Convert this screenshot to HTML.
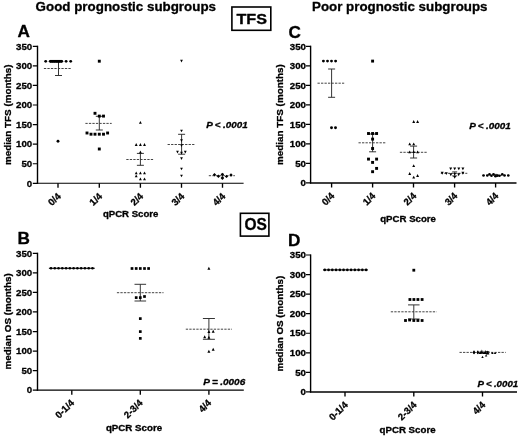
<!DOCTYPE html>
<html lang="en"><head><meta charset="utf-8"><title>qPCR Score prognostic subgroups</title>
<style>html,body{margin:0;padding:0;background:#fff}body{width:520px;height:436px;overflow:hidden}svg{display:block;filter:blur(0.3px)}</style>
</head><body>
<svg width="520" height="436" viewBox="0 0 520 436" font-family='"Liberation Sans", Arial, Helvetica, sans-serif' fill="#000">
<rect width="520" height="436" fill="#fff"/>
<style>text{stroke:#000;stroke-width:0.3px;stroke-linejoin:round}</style>
<text x="35.6" y="10.8" font-size="12.4" font-weight="bold" textLength="180.4" lengthAdjust="spacingAndGlyphs">Good prognostic subgroups</text>
<text x="312.0" y="10.9" font-size="12.4" font-weight="bold" textLength="175.5" lengthAdjust="spacingAndGlyphs">Poor prognostic subgroups</text>
<rect x="231.9" y="7.0" width="38.9" height="23.3" fill="none" stroke="#000" stroke-width="1.6"/>
<text x="251.7" y="23.7" font-size="14.4" font-weight="bold" text-anchor="middle" textLength="30.6" lengthAdjust="spacingAndGlyphs">TFS</text>
<rect x="240.4" y="213.3" width="28.5" height="22.8" fill="none" stroke="#000" stroke-width="1.6"/>
<text x="255.7" y="230.0" font-size="16" font-weight="bold" text-anchor="middle" textLength="22.4" lengthAdjust="spacingAndGlyphs">OS</text>
<g font-size="16" font-weight="bold" lengthAdjust="spacingAndGlyphs">
<text x="17.6" y="36.7" textLength="12.4" lengthAdjust="spacingAndGlyphs">A</text>
<text x="17.4" y="243.8" textLength="12.4" lengthAdjust="spacingAndGlyphs">B</text>
<text x="288.5" y="38.4" textLength="12.4" lengthAdjust="spacingAndGlyphs">C</text>
<text x="288.1" y="246.3" textLength="12.4" lengthAdjust="spacingAndGlyphs">D</text>
</g>
<g stroke="#000" fill="none" stroke-linecap="butt">
<path stroke-width="1.4" d="M37.50 45.70V183.85"/>
<path stroke-width="1.1" d="M36.80 183.30H243.60"/>
<path stroke-width="1.2" d="M32.80 46.30H37.50M32.80 65.87H37.50M32.80 85.44H37.50M32.80 105.01H37.50M32.80 124.59H37.50M32.80 144.16H37.50M32.80 163.73H37.50M32.80 183.30H37.50"/>
<path stroke-width="1.35" d="M58.00 183.30V187.80M99.30 183.30V187.80M140.40 183.30V187.80M181.50 183.30V187.80M222.50 183.30V187.80"/>
</g>
<g font-size="9.5" font-weight="bold" text-anchor="end">
<text x="32.20" y="49.50" textLength="16.20" lengthAdjust="spacingAndGlyphs">350</text>
<text x="32.20" y="69.07" textLength="16.20" lengthAdjust="spacingAndGlyphs">300</text>
<text x="32.20" y="88.64" textLength="16.20" lengthAdjust="spacingAndGlyphs">250</text>
<text x="32.20" y="108.21" textLength="16.20" lengthAdjust="spacingAndGlyphs">200</text>
<text x="32.20" y="127.79" textLength="16.20" lengthAdjust="spacingAndGlyphs">150</text>
<text x="32.20" y="147.36" textLength="16.20" lengthAdjust="spacingAndGlyphs">100</text>
<text x="32.20" y="166.93" textLength="10.80" lengthAdjust="spacingAndGlyphs">50</text>
<text x="32.20" y="186.50" textLength="5.40" lengthAdjust="spacingAndGlyphs">0</text>
</g>
<g font-size="9.6" font-weight="bold" text-anchor="end">
<text transform="translate(61.50 196.90) rotate(-45)">0/4</text>
<text transform="translate(102.80 196.90) rotate(-45)">1/4</text>
<text transform="translate(143.90 196.90) rotate(-45)">2/4</text>
<text transform="translate(185.00 196.90) rotate(-45)">3/4</text>
<text transform="translate(226.00 196.90) rotate(-45)">4/4</text>
</g>
<text x="102.90" y="217.00" font-size="8.9" font-weight="bold" textLength="55.50" lengthAdjust="spacingAndGlyphs">qPCR Score</text>
<text transform="translate(10.50 114.80) rotate(-90)" font-size="9.6" font-weight="bold" text-anchor="middle" textLength="100.60" lengthAdjust="spacingAndGlyphs">median TFS (months)</text>
<g stroke="#000" fill="none" stroke-linecap="butt">
<path stroke-width="1.4" d="M310.60 45.70V183.45"/>
<path stroke-width="1.5" d="M309.90 182.90H516.50"/>
<path stroke-width="1.2" d="M305.90 46.30H310.60M305.90 65.81H310.60M305.90 85.33H310.60M305.90 104.84H310.60M305.90 124.36H310.60M305.90 143.87H310.60M305.90 163.39H310.60M305.90 182.90H310.60"/>
<path stroke-width="1.35" d="M331.60 182.90V187.40M372.60 182.90V187.40M413.50 182.90V187.40M454.60 182.90V187.40M495.60 182.90V187.40"/>
</g>
<g font-size="9.5" font-weight="bold" text-anchor="end">
<text x="306.00" y="49.50" textLength="16.20" lengthAdjust="spacingAndGlyphs">350</text>
<text x="306.00" y="69.01" textLength="16.20" lengthAdjust="spacingAndGlyphs">300</text>
<text x="306.00" y="88.53" textLength="16.20" lengthAdjust="spacingAndGlyphs">250</text>
<text x="306.00" y="108.04" textLength="16.20" lengthAdjust="spacingAndGlyphs">200</text>
<text x="306.00" y="127.56" textLength="16.20" lengthAdjust="spacingAndGlyphs">150</text>
<text x="306.00" y="147.07" textLength="16.20" lengthAdjust="spacingAndGlyphs">100</text>
<text x="306.00" y="166.59" textLength="10.80" lengthAdjust="spacingAndGlyphs">50</text>
<text x="306.00" y="186.10" textLength="5.40" lengthAdjust="spacingAndGlyphs">0</text>
</g>
<g font-size="9.6" font-weight="bold" text-anchor="end">
<text transform="translate(335.10 196.50) rotate(-45)">0/4</text>
<text transform="translate(376.10 196.50) rotate(-45)">1/4</text>
<text transform="translate(417.00 196.50) rotate(-45)">2/4</text>
<text transform="translate(458.10 196.50) rotate(-45)">3/4</text>
<text transform="translate(499.10 196.50) rotate(-45)">4/4</text>
</g>
<text x="380.20" y="221.90" font-size="8.9" font-weight="bold" textLength="55.80" lengthAdjust="spacingAndGlyphs">qPCR Score</text>
<text transform="translate(283.30 114.60) rotate(-90)" font-size="9.6" font-weight="bold" text-anchor="middle" textLength="100.60" lengthAdjust="spacingAndGlyphs">median TFS (months)</text>
<g stroke="#000" fill="none" stroke-linecap="butt">
<path stroke-width="1.4" d="M37.50 252.70V390.75"/>
<path stroke-width="1.25" d="M36.80 390.20H243.80"/>
<path stroke-width="1.2" d="M32.80 253.30H37.50M32.80 272.86H37.50M32.80 292.41H37.50M32.80 311.97H37.50M32.80 331.53H37.50M32.80 351.09H37.50M32.80 370.64H37.50M32.80 390.20H37.50"/>
<path stroke-width="1.35" d="M71.80 390.20V394.70M140.30 390.20V394.70M208.90 390.20V394.70"/>
</g>
<g font-size="9.5" font-weight="bold" text-anchor="end">
<text x="32.20" y="256.50" textLength="16.20" lengthAdjust="spacingAndGlyphs">350</text>
<text x="32.20" y="276.06" textLength="16.20" lengthAdjust="spacingAndGlyphs">300</text>
<text x="32.20" y="295.61" textLength="16.20" lengthAdjust="spacingAndGlyphs">250</text>
<text x="32.20" y="315.17" textLength="16.20" lengthAdjust="spacingAndGlyphs">200</text>
<text x="32.20" y="334.73" textLength="16.20" lengthAdjust="spacingAndGlyphs">150</text>
<text x="32.20" y="354.29" textLength="16.20" lengthAdjust="spacingAndGlyphs">100</text>
<text x="32.20" y="373.84" textLength="10.80" lengthAdjust="spacingAndGlyphs">50</text>
<text x="32.20" y="393.40" textLength="5.40" lengthAdjust="spacingAndGlyphs">0</text>
</g>
<g font-size="9.6" font-weight="bold" text-anchor="end">
<text transform="translate(74.80 403.50) rotate(-45)">0-1/4</text>
<text transform="translate(143.30 403.50) rotate(-45)">2-3/4</text>
<text transform="translate(211.90 403.50) rotate(-45)">4/4</text>
</g>
<text x="105.90" y="431.30" font-size="8.9" font-weight="bold" textLength="56.20" lengthAdjust="spacingAndGlyphs">qPCR Score</text>
<text transform="translate(10.50 321.35) rotate(-90)" font-size="9.6" font-weight="bold" text-anchor="middle" textLength="96.40" lengthAdjust="spacingAndGlyphs">median OS (months)</text>
<g stroke="#000" fill="none" stroke-linecap="butt">
<path stroke-width="1.4" d="M310.60 254.40V392.45"/>
<path stroke-width="1.55" d="M309.90 391.90H517.00"/>
<path stroke-width="1.2" d="M305.90 255.00H310.60M305.90 274.56H310.60M305.90 294.11H310.60M305.90 313.67H310.60M305.90 333.23H310.60M305.90 352.79H310.60M305.90 372.34H310.60M305.90 391.90H310.60"/>
<path stroke-width="1.35" d="M345.00 391.90V396.40M413.80 391.90V396.40M482.50 391.90V396.40"/>
</g>
<g font-size="9.5" font-weight="bold" text-anchor="end">
<text x="306.00" y="258.20" textLength="16.20" lengthAdjust="spacingAndGlyphs">350</text>
<text x="306.00" y="277.76" textLength="16.20" lengthAdjust="spacingAndGlyphs">300</text>
<text x="306.00" y="297.31" textLength="16.20" lengthAdjust="spacingAndGlyphs">250</text>
<text x="306.00" y="316.87" textLength="16.20" lengthAdjust="spacingAndGlyphs">200</text>
<text x="306.00" y="336.43" textLength="16.20" lengthAdjust="spacingAndGlyphs">150</text>
<text x="306.00" y="355.99" textLength="16.20" lengthAdjust="spacingAndGlyphs">100</text>
<text x="306.00" y="375.54" textLength="10.80" lengthAdjust="spacingAndGlyphs">50</text>
<text x="306.00" y="395.10" textLength="5.40" lengthAdjust="spacingAndGlyphs">0</text>
</g>
<g font-size="9.6" font-weight="bold" text-anchor="end">
<text transform="translate(348.50 405.50) rotate(-45)">0-1/4</text>
<text transform="translate(417.30 405.50) rotate(-45)">2-3/4</text>
<text transform="translate(486.00 405.50) rotate(-45)">4/4</text>
</g>
<text x="379.50" y="432.60" font-size="8.9" font-weight="bold" textLength="56.10" lengthAdjust="spacingAndGlyphs">qPCR Score</text>
<text transform="translate(283.30 323.65) rotate(-90)" font-size="9.6" font-weight="bold" text-anchor="middle" textLength="95.80" lengthAdjust="spacingAndGlyphs">median OS (months)</text>
<g font-size="9.2" font-weight="bold" font-style="italic" word-spacing="-0.3">
<text x="206.2" y="127.8" textLength="41.5" lengthAdjust="spacingAndGlyphs">P &lt; .0001</text>
<text x="469.2" y="128.7" textLength="41.6" lengthAdjust="spacingAndGlyphs">P &lt; .0001</text>
<text x="203.2" y="384.9" textLength="42.0" lengthAdjust="spacingAndGlyphs">P = .0006</text>
<text x="477.4" y="386.8" textLength="40.8" lengthAdjust="spacingAndGlyphs">P &lt; .0001</text>
</g>
<g stroke="#2a2a2a" stroke-width="0.95" fill="none">
<line x1="43.90" y1="68.50" x2="70.90" y2="68.50" stroke-dasharray="2.3 1.2" stroke="#3a3a3a"/>
<path d="M58.50 61.20V75.50M55.00 61.20H62.00M55.00 75.50H62.00"/>
<line x1="85.40" y1="123.40" x2="111.70" y2="123.40" stroke-dasharray="2.3 1.2" stroke="#3a3a3a"/>
<path d="M99.30 116.30V130.00M95.80 116.30H102.80M95.80 130.00H102.80"/>
<line x1="126.30" y1="159.50" x2="153.30" y2="159.50" stroke-dasharray="2.3 1.2" stroke="#3a3a3a"/>
<path d="M140.40 153.40V165.30M136.90 153.40H143.90M136.90 165.30H143.90"/>
<line x1="167.60" y1="144.50" x2="194.40" y2="144.50" stroke-dasharray="2.3 1.2" stroke="#3a3a3a"/>
<path d="M181.60 134.30V154.20M178.10 134.30H185.10M178.10 154.20H185.10"/>
<line x1="208.80" y1="175.70" x2="234.90" y2="175.70" stroke-dasharray="2.3 1.2" stroke="#3a3a3a"/>
<path d="M222.40 174.20V177.40M220.90 174.20H223.90M220.90 177.40H223.90"/>
<line x1="317.50" y1="83.20" x2="344.20" y2="83.20" stroke-dasharray="2.3 1.2" stroke="#3a3a3a"/>
<path d="M331.60 69.00V97.30M328.10 69.00H335.10M328.10 97.30H335.10"/>
<line x1="358.50" y1="142.80" x2="385.30" y2="142.80" stroke-dasharray="2.3 1.2" stroke="#3a3a3a"/>
<path d="M372.60 134.00V151.80M369.10 134.00H376.10M369.10 151.80H376.10"/>
<line x1="399.90" y1="152.30" x2="426.70" y2="152.30" stroke-dasharray="2.3 1.2" stroke="#3a3a3a"/>
<path d="M413.60 146.10V158.00M410.10 146.10H417.10M410.10 158.00H417.10"/>
<line x1="440.80" y1="173.30" x2="467.30" y2="173.30" stroke-dasharray="2.3 1.2" stroke="#3a3a3a"/>
<path d="M454.70 171.90V175.90M452.20 171.90H457.20M452.20 175.90H457.20"/>
<line x1="482.50" y1="175.30" x2="509.20" y2="175.30" stroke-dasharray="2.3 1.2" stroke="#3a3a3a"/>
<path d="M495.80 174.40V176.30M494.30 174.40H497.30M494.30 176.30H497.30"/>
<line x1="116.90" y1="292.70" x2="163.50" y2="292.70" stroke-dasharray="2.3 1.2" stroke="#3a3a3a"/>
<path d="M140.30 284.30V301.00M134.50 284.30H146.10M134.50 301.00H146.10"/>
<line x1="185.80" y1="329.20" x2="232.00" y2="329.20" stroke-dasharray="2.3 1.2" stroke="#3a3a3a"/>
<path d="M208.90 318.50V339.30M202.90 318.50H214.90M202.90 339.30H214.90"/>
<line x1="390.80" y1="311.80" x2="436.60" y2="311.80" stroke-dasharray="2.3 1.2" stroke="#3a3a3a"/>
<path d="M413.80 304.90V319.00M408.05 304.90H419.55M408.05 319.00H419.55"/>
<line x1="459.50" y1="352.40" x2="505.70" y2="352.40" stroke-dasharray="2.3 1.2" stroke="#3a3a3a"/>
<path d="M487.60 351.60V354.10M485.90 351.60H489.30M485.90 354.10H489.30"/>
</g>
<g fill="#000" stroke="none">
<circle cx="45.70" cy="61.30" r="1.4"/>
<circle cx="50.20" cy="61.30" r="1.4"/>
<circle cx="52.20" cy="61.30" r="1.4"/>
<circle cx="54.20" cy="61.30" r="1.4"/>
<circle cx="56.20" cy="61.30" r="1.4"/>
<circle cx="58.00" cy="61.30" r="1.4"/>
<circle cx="59.80" cy="61.30" r="1.4"/>
<circle cx="61.80" cy="61.30" r="1.4"/>
<circle cx="66.10" cy="61.30" r="1.4"/>
<circle cx="70.70" cy="61.30" r="1.4"/>
<rect x="50.0" y="59.95" width="12.0" height="2.7"/>
<circle cx="58.00" cy="141.30" r="1.45"/>
<rect x="97.85" y="59.75" width="2.9" height="2.9"/>
<rect x="93.55" y="111.85" width="2.9" height="2.9"/>
<rect x="97.85" y="114.65" width="2.9" height="2.9"/>
<rect x="102.05" y="114.65" width="2.9" height="2.9"/>
<rect x="85.55" y="131.55" width="2.9" height="2.9"/>
<rect x="89.55" y="132.75" width="2.9" height="2.9"/>
<rect x="93.55" y="132.75" width="2.9" height="2.9"/>
<rect x="97.85" y="132.75" width="2.9" height="2.9"/>
<rect x="102.05" y="132.75" width="2.9" height="2.9"/>
<rect x="106.15" y="131.55" width="2.9" height="2.9"/>
<rect x="97.85" y="147.55" width="2.9" height="2.9"/>
<path d="M138.95 123.70L141.85 123.70L140.40 120.90Z"/>
<path d="M134.75 145.90L137.65 145.90L136.20 143.10Z"/>
<path d="M138.95 145.90L141.85 145.90L140.40 143.10Z"/>
<path d="M143.05 145.90L145.95 145.90L144.50 143.10Z"/>
<path d="M138.95 153.40L141.85 153.40L140.40 150.60Z"/>
<path d="M134.75 174.20L137.65 174.20L136.20 171.40Z"/>
<path d="M138.95 174.20L141.85 174.20L140.40 171.40Z"/>
<path d="M143.05 174.20L145.95 174.20L144.50 171.40Z"/>
<path d="M134.75 177.30L137.65 177.30L136.20 174.50Z"/>
<path d="M138.95 180.20L141.85 180.20L140.40 177.40Z"/>
<path d="M143.05 180.20L145.95 180.20L144.50 177.40Z"/>
<path d="M180.10 59.85L182.90 59.85L181.50 62.55Z"/>
<path d="M180.10 129.65L182.90 129.65L181.50 132.35Z"/>
<path d="M180.10 139.25L182.90 139.25L181.50 141.95Z"/>
<path d="M180.10 144.25L182.90 144.25L181.50 146.95Z"/>
<path d="M176.10 150.85L178.90 150.85L177.50 153.55Z"/>
<path d="M183.90 150.85L186.70 150.85L185.30 153.55Z"/>
<path d="M180.10 151.85L182.90 151.85L181.50 154.55Z"/>
<path d="M180.10 157.35L182.90 157.35L181.50 160.05Z"/>
<path d="M180.10 167.65L182.90 167.65L181.50 170.35Z"/>
<path d="M180.10 174.65L182.90 174.65L181.50 177.35Z"/>
<path d="M212.80 174.80L214.50 173.10L216.20 174.80L214.50 176.50Z"/>
<path d="M216.70 176.20L218.40 174.50L220.10 176.20L218.40 177.90Z"/>
<path d="M220.70 174.40L222.40 172.70L224.10 174.40L222.40 176.10Z"/>
<path d="M220.70 178.20L222.40 176.50L224.10 178.20L222.40 179.90Z"/>
<path d="M224.80 176.40L226.50 174.70L228.20 176.40L226.50 178.10Z"/>
<path d="M229.30 175.00L231.00 173.30L232.70 175.00L231.00 176.70Z"/>
<circle cx="323.40" cy="61.10" r="1.45"/>
<circle cx="327.50" cy="61.10" r="1.45"/>
<circle cx="331.50" cy="61.10" r="1.45"/>
<circle cx="335.60" cy="61.10" r="1.45"/>
<circle cx="331.50" cy="127.80" r="1.45"/>
<circle cx="335.50" cy="127.80" r="1.45"/>
<rect x="371.15" y="59.65" width="2.9" height="2.9"/>
<rect x="367.05" y="132.05" width="2.9" height="2.9"/>
<rect x="371.15" y="132.05" width="2.9" height="2.9"/>
<rect x="375.15" y="132.05" width="2.9" height="2.9"/>
<rect x="371.15" y="137.65" width="2.9" height="2.9"/>
<rect x="371.15" y="147.05" width="2.9" height="2.9"/>
<rect x="367.05" y="157.65" width="2.9" height="2.9"/>
<rect x="375.15" y="157.65" width="2.9" height="2.9"/>
<rect x="371.15" y="160.95" width="2.9" height="2.9"/>
<rect x="375.15" y="166.95" width="2.9" height="2.9"/>
<rect x="371.15" y="170.25" width="2.9" height="2.9"/>
<path d="M412.25 122.90L415.15 122.90L413.70 120.10Z"/>
<path d="M416.15 122.90L419.05 122.90L417.60 120.10Z"/>
<path d="M408.25 145.30L411.15 145.30L409.70 142.50Z"/>
<path d="M412.25 145.30L415.15 145.30L413.70 142.50Z"/>
<path d="M408.25 153.20L411.15 153.20L409.70 150.40Z"/>
<path d="M412.25 153.00L415.15 153.00L413.70 150.20Z"/>
<path d="M416.15 153.20L419.05 153.20L417.60 150.40Z"/>
<path d="M412.25 167.10L415.15 167.10L413.70 164.30Z"/>
<path d="M408.25 174.90L411.15 174.90L409.70 172.10Z"/>
<path d="M416.15 176.90L419.05 176.90L417.60 174.10Z"/>
<path d="M412.25 178.50L415.15 178.50L413.70 175.70Z"/>
<path d="M449.20 167.45L452.20 167.45L450.70 170.35Z"/>
<path d="M453.20 167.45L456.20 167.45L454.70 170.35Z"/>
<path d="M457.30 167.45L460.30 167.45L458.80 170.35Z"/>
<path d="M461.40 167.45L464.40 167.45L462.90 170.35Z"/>
<path d="M440.70 171.75L443.70 171.75L442.20 174.65Z"/>
<path d="M444.80 172.15L447.80 172.15L446.30 175.05Z"/>
<path d="M449.30 173.35L452.30 173.35L450.80 176.25Z"/>
<path d="M457.20 173.35L460.20 173.35L458.70 176.25Z"/>
<path d="M461.40 171.75L464.40 171.75L462.90 174.65Z"/>
<path d="M453.20 175.95L456.20 175.95L454.70 178.85Z"/>
<path d="M453.40 173.00L456.00 173.00L454.70 175.40Z"/>
<circle cx="483.50" cy="175.50" r="1.3"/>
<circle cx="487.30" cy="175.50" r="1.3"/>
<circle cx="489.50" cy="174.30" r="1.3"/>
<circle cx="491.50" cy="175.80" r="1.3"/>
<circle cx="493.50" cy="174.30" r="1.3"/>
<circle cx="495.50" cy="176.20" r="1.3"/>
<circle cx="497.50" cy="175.60" r="1.3"/>
<circle cx="499.50" cy="175.80" r="1.3"/>
<circle cx="502.30" cy="174.30" r="1.3"/>
<circle cx="504.50" cy="175.50" r="1.3"/>
<circle cx="508.30" cy="175.50" r="1.3"/>
<circle cx="51.00" cy="268.25" r="1.3"/>
<circle cx="54.77" cy="268.25" r="1.3"/>
<circle cx="58.54" cy="268.25" r="1.3"/>
<circle cx="62.31" cy="268.25" r="1.3"/>
<circle cx="66.08" cy="268.25" r="1.3"/>
<circle cx="69.85" cy="268.25" r="1.3"/>
<circle cx="73.62" cy="268.25" r="1.3"/>
<circle cx="77.39" cy="268.25" r="1.3"/>
<circle cx="81.16" cy="268.25" r="1.3"/>
<circle cx="84.93" cy="268.25" r="1.3"/>
<circle cx="88.70" cy="268.25" r="1.3"/>
<circle cx="92.47" cy="268.25" r="1.3"/>
<rect x="48.9" y="267.75" width="45.9" height="1.0"/>
<rect x="130.65" y="267.15" width="2.7" height="2.7"/>
<rect x="134.85" y="267.15" width="2.7" height="2.7"/>
<rect x="138.95" y="267.15" width="2.7" height="2.7"/>
<rect x="143.15" y="267.15" width="2.7" height="2.7"/>
<rect x="147.25" y="267.15" width="2.7" height="2.7"/>
<rect x="134.85" y="296.25" width="2.7" height="2.7"/>
<rect x="138.95" y="296.25" width="2.7" height="2.7"/>
<rect x="143.15" y="295.15" width="2.7" height="2.7"/>
<rect x="138.95" y="317.25" width="2.7" height="2.7"/>
<rect x="138.95" y="330.25" width="2.7" height="2.7"/>
<rect x="138.95" y="337.05" width="2.7" height="2.7"/>
<path d="M207.40 269.75L210.40 269.75L208.90 266.85Z"/>
<path d="M207.40 332.95L210.40 332.95L208.90 330.05Z"/>
<path d="M211.70 332.65L214.70 332.65L213.20 329.75Z"/>
<path d="M203.20 338.25L206.20 338.25L204.70 335.35Z"/>
<path d="M207.40 338.75L210.40 338.75L208.90 335.85Z"/>
<path d="M211.70 350.75L214.70 350.75L213.20 347.85Z"/>
<path d="M207.40 352.65L210.40 352.65L208.90 349.75Z"/>
<circle cx="324.80" cy="269.90" r="1.3"/>
<circle cx="328.56" cy="269.90" r="1.3"/>
<circle cx="332.31" cy="269.90" r="1.3"/>
<circle cx="336.06" cy="269.90" r="1.3"/>
<circle cx="339.82" cy="269.90" r="1.3"/>
<circle cx="343.57" cy="269.90" r="1.3"/>
<circle cx="347.33" cy="269.90" r="1.3"/>
<circle cx="351.09" cy="269.90" r="1.3"/>
<circle cx="354.84" cy="269.90" r="1.3"/>
<circle cx="358.60" cy="269.90" r="1.3"/>
<circle cx="362.35" cy="269.90" r="1.3"/>
<circle cx="366.11" cy="269.90" r="1.3"/>
<rect x="323.0" y="269.4" width="44.9" height="1.0"/>
<rect x="412.40" y="268.80" width="2.8" height="2.8"/>
<rect x="408.50" y="298.10" width="2.8" height="2.8"/>
<rect x="412.50" y="298.10" width="2.8" height="2.8"/>
<rect x="416.50" y="298.10" width="2.8" height="2.8"/>
<rect x="420.70" y="298.10" width="2.8" height="2.8"/>
<rect x="404.10" y="319.10" width="2.8" height="2.8"/>
<rect x="408.20" y="318.60" width="2.8" height="2.8"/>
<rect x="412.40" y="319.10" width="2.8" height="2.8"/>
<rect x="416.50" y="319.10" width="2.8" height="2.8"/>
<rect x="420.70" y="319.10" width="2.8" height="2.8"/>
<path d="M472.45 352.40L474.00 350.85L475.55 352.40L474.00 353.95Z"/>
<rect x="473.40" y="350.70" width="1.2" height="3.4"/>
<path d="M476.25 352.40L477.80 350.85L479.35 352.40L477.80 353.95Z"/>
<rect x="477.20" y="350.70" width="1.2" height="3.4"/>
<path d="M478.70 354.00L481.70 354.00L480.20 350.40Z"/>
<path d="M480.30 353.80L483.50 353.80L481.90 349.40Z"/>
<path d="M482.60 354.00L485.40 354.00L484.00 350.60Z"/>
<path d="M484.20 353.90L487.20 353.90L485.70 349.90Z"/>
<path d="M486.10 354.00L489.10 354.00L487.60 350.60Z"/>
<path d="M491.10 354.10L493.70 354.10L492.40 351.90Z"/>
<path d="M493.80 354.10L496.40 354.10L495.10 351.90Z"/>
<path d="M481.30 358.00L483.70 358.00L482.50 355.80Z"/>
<path d="M484.90 356.50L487.30 356.50L486.10 354.30Z"/>
</g>
</svg>
</body></html>
